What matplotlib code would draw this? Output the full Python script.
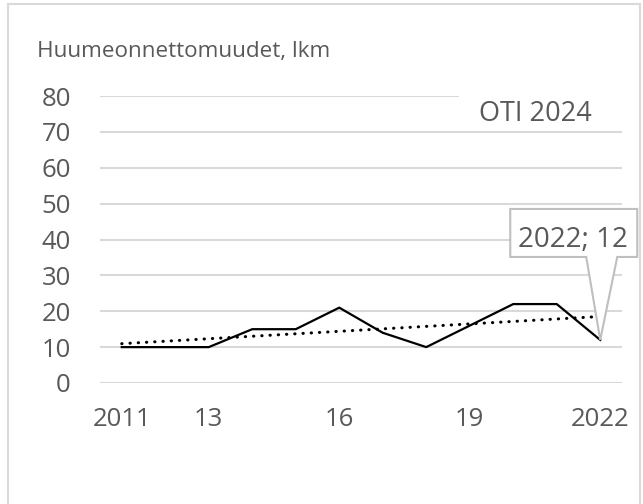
import numpy as np
import matplotlib.pyplot as plt
from matplotlib.patches import Rectangle, Polygon
from matplotlib.transforms import IdentityTransform, ScaledTranslation

plt.rcParams['font.family'] = ['Open Sans', 'DejaVu Sans']

# data
years = [2011, 2012, 2013, 2014, 2015, 2016, 2017, 2018, 2019, 2020, 2021, 2022]
accidents = [10, 10, 10, 15, 15, 21, 14, 10, 16, 22, 22, 12]
tick_idx = [0, 2, 5, 8, 11]
tick_labels = ['2011', '13', '16', '19', '2022']
title = 'Huumeonnettomuudet, lkm'
source = 'OTI 2024'

grey = '#595959'
grid = '#d9d9d9'

x = np.arange(len(years))
y = np.array(accidents)
# linear trend
k, b = np.polyfit(x, y, 1)
trend = k * x + b

fig = plt.figure(figsize=(6.43, 5.04), dpi=100)
ax = fig.add_axes([100 / 643, 1 - 383 / 504, 522 / 643, 287 / 504])

for v in range(0, 90, 10):
    ax.axhline(v, color=grid, lw=1.5, zorder=0)

ax.plot(x, y, color='black', lw=1.6, zorder=3)
ax.plot(x, trend, color='black', lw=2.2, linestyle=(0, (0.1, 2.6)),
        dash_capstyle='round', zorder=2)

ax.set_xlim(-0.5, 11.5)
ax.set_ylim(0, 80)
ax.set_yticks(range(0, 90, 10))
ax.set_xticks(tick_idx)
ax.set_xticklabels(tick_labels)
ax.tick_params(axis='both', length=0, labelsize=18.5, labelcolor=grey)
ax.tick_params(axis='y', pad=21)
ax.tick_params(axis='x', pad=17)
for s in ax.spines.values():
    s.set_visible(False)

# source label, white patch hides the end of the top gridline
ax.add_patch(Rectangle((0.688, 0.888), 0.4, 0.133, transform=ax.transAxes,
                       fc='white', ec='none', clip_on=False, zorder=1))
ax.text(0.8333, 0.9129, source, transform=ax.transAxes, ha='center', va='baseline',
        fontsize=19.5, color=grey, zorder=4)

# callout for last point (shape in pixels relative to the point)
last = len(years) - 1
tr = IdentityTransform() + ScaledTranslation(x[last], y[last], ax.transData)
shape = [(-90, 83), (-14, 83), (0, 0), (17, 83), (37, 83), (37, 131), (-90, 131)]
ax.add_patch(Polygon(shape, closed=True, transform=tr, fc='white', ec='#bfbfbf',
                     lw=1.5, clip_on=False, zorder=5))
ax.text(-27, 93, f'{years[last]}; {accidents[last]}', transform=tr, ha='center',
        va='baseline', fontsize=20, color=grey, zorder=6, clip_on=False)

fig.text(37 / 643, 1 - 57 / 504, title, ha='left', va='baseline', fontsize=16.2, color=grey)

fig.patches.append(Rectangle((8 / 643, -0.05), 632 / 643, 1.05 - 4 / 504,
                             transform=fig.transFigure, fill=False,
                             ec='#d9d9d9', lw=1.5))

fig.savefig('out.png', dpi=100)
